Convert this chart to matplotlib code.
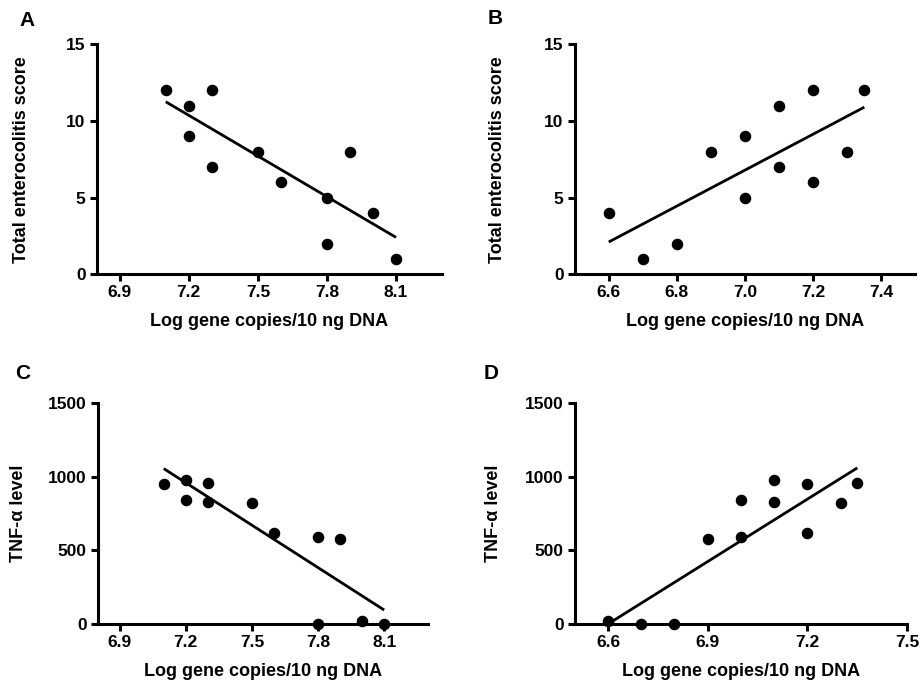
import matplotlib
matplotlib.use("Agg")
import matplotlib.pyplot as plt

plt.rcParams['font.family'] = ['Liberation Sans', 'DejaVu Sans']
plt.rcParams['font.weight'] = 'bold'

# Panel A: enterocolitis score vs log gene copies
a_x = [7.1, 7.2, 7.2, 7.3, 7.3, 7.5, 7.6, 7.8, 7.8, 7.9, 8.0, 8.1]
a_y = [12, 11, 9, 12, 7, 8, 6, 5, 2, 8, 4, 1]
a_fit_x = [7.1, 8.1]
a_fit_y = [11.25, 2.4]

# Panel B
b_x = [6.6, 6.7, 6.8, 6.9, 7.0, 7.0, 7.1, 7.1, 7.2, 7.2, 7.3, 7.35]
b_y = [4, 1, 2, 8, 9, 5, 11, 7, 12, 6, 8, 12]
b_fit_x = [6.6, 7.35]
b_fit_y = [2.1, 10.9]

# Panel C: TNF-alpha
c_x = [7.1, 7.2, 7.2, 7.3, 7.3, 7.5, 7.6, 7.8, 7.8, 7.9, 8.0, 8.1]
c_y = [950, 980, 840, 960, 830, 820, 620, 590, 0, 580, 20, 0]
c_fit_x = [7.1, 8.1]
c_fit_y = [1055, 95]

# Panel D
d_x = [6.6, 6.7, 6.8, 6.9, 7.0, 7.0, 7.1, 7.1, 7.2, 7.2, 7.3, 7.35]
d_y = [20, 0, 0, 580, 840, 590, 980, 830, 950, 620, 820, 960]
d_fit_x = [6.6, 7.35]
d_fit_y = [0, 1060]

ab_yticks = [0, 5, 10, 15]
cd_yticks = [0, 500, 1000, 1500]
ac_xticks = [6.9, 7.2, 7.5, 7.8, 8.1]
b_xticks = [6.6, 6.8, 7.0, 7.2, 7.4]
d_xticks = [6.6, 6.9, 7.2, 7.5]

xlabel = 'Log gene copies/10 ng DNA'

W, H = 921, 682
fig = plt.figure(figsize=(W / 100, H / 100), dpi=100)

panels = [
    # letter, rect, x, y, fx, fy, xlim, xticks, ylim, yticks, ylabel, letter pos (px), ylabel x (px)
    ('A', [0.105, 0.598, 0.375, 0.337], a_x, a_y, a_fit_x, a_fit_y, (6.8, 8.3), ac_xticks, (0, 15), ab_yticks,
     'Total enterocolitis score', (27, 20), 21),
    ('B', [0.624, 0.598, 0.370, 0.337], b_x, b_y, b_fit_x, b_fit_y, (6.5, 7.5), b_xticks, (0, 15), ab_yticks,
     'Total enterocolitis score', (495, 19), 497),
    ('C', [0.106, 0.085, 0.359, 0.324], c_x, c_y, c_fit_x, c_fit_y, (6.8, 8.3), ac_xticks, (0, 1500), cd_yticks,
     'TNF-α level', (23, 374), 18),
    ('D', [0.624, 0.085, 0.361, 0.324], d_x, d_y, d_fit_x, d_fit_y, (6.5, 7.5), d_xticks, (0, 1500), cd_yticks,
     'TNF-α level', (491, 374), 493),
]

for (letter, rect, x, y, fx, fy, xlim, xticks, ylim, yticks, ylabel, lpos, ylx) in panels:
    ax = fig.add_axes(rect)
    ax.plot(fx, fy, color='black', lw=2.0, solid_capstyle='butt', zorder=2)
    ax.plot(x, y, 'o', color='black', ms=7.3, clip_on=False, zorder=3)
    ax.set_xlim(*xlim)
    ax.set_ylim(*ylim)
    ax.set_xticks(xticks)
    ax.set_xticklabels(['{:.1f}'.format(v) for v in xticks])
    ax.set_yticks(yticks)
    ax.set_yticklabels(['{:d}'.format(v) for v in yticks])
    for s in ['top', 'right']:
        ax.spines[s].set_visible(False)
    for s in ['left', 'bottom']:
        ax.spines[s].set_linewidth(2.2)
    ax.tick_params(axis='both', which='major', length=5, width=2.2, labelsize=12.5, direction='out', pad=3)
    for lab in ax.get_xticklabels() + ax.get_yticklabels():
        lab.set_fontweight('bold')
    ax.set_xlabel(xlabel, fontsize=13, fontweight='bold', labelpad=9)
    ax.set_ylabel(ylabel, fontsize=13, fontweight='bold', va='center')
    ax.yaxis.set_label_coords((ylx - rect[0] * W) / (rect[2] * W), 0.5)
    fig.text(lpos[0] / W, 1 - lpos[1] / H, letter, fontsize=15, fontweight='bold', ha='center', va='center')

fig.savefig('out.png', dpi=100, facecolor='white')
